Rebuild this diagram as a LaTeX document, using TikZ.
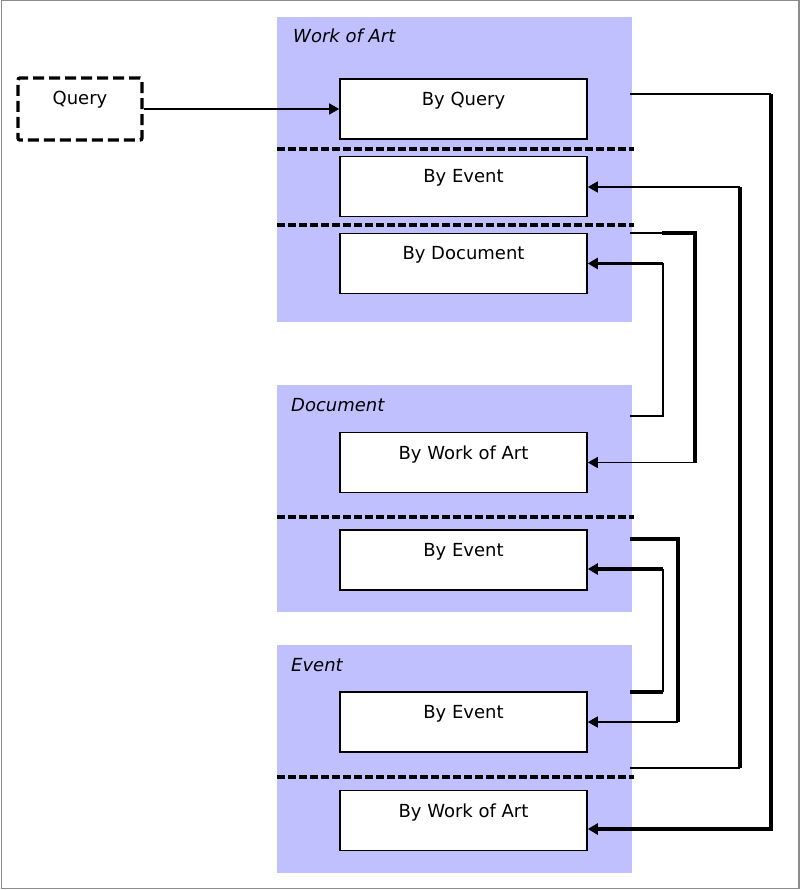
\documentclass[tikz,border=0pt]{standalone}
\usepackage{fontspec}
\setmainfont{DejaVu Sans}
\usetikzlibrary{arrows.meta,calc}
\definecolor{panelblue}{RGB}{192,192,255}
\definecolor{framegray}{RGB}{140,140,140}
\begin{document}
\begin{tikzpicture}[x=1pt,y=-1pt,
  every node/.style={font=\fontsize{18}{21}\selectfont},
  panel/.style={draw=none,fill=panelblue,inner sep=0pt,minimum width=355pt,anchor=center},
  itembox/.style={draw=black,line width=1.6pt,fill=white,inner sep=0pt,minimum width=247pt,
    text height=26.5pt,text depth=33.5pt,anchor=center},
  qbox/.style={draw=black,line width=3.4pt,dash pattern=on 11pt off 5pt,rounded corners=2pt,
    inner sep=0pt,minimum width=124pt,text height=27pt,text depth=35pt,anchor=center},
  ptitle/.style={font=\fontsize{18}{21}\selectfont\itshape,inner sep=0pt,anchor=base west},
  sepline/.style={line width=3.6pt,dash pattern=on 8pt off 3pt},
  thinc/.style={line width=1.5pt},
  thickc/.style={line width=3.4pt},
  tip/.style={-{Triangle[length=10pt,width=11pt]}},
]
\useasboundingbox (0,0) rectangle (801,890);
\draw[framegray,line width=1.3pt] (1.5,0.6) rectangle (799,888.5);

% panels
\node[panel,minimum height=305pt] (pWA) at (454.5,169.5) {};
\node[panel,minimum height=227pt] (pDoc) at (454.5,498.5) {};
\node[panel,minimum height=228pt] (pEv) at (454.5,759) {};

\node[ptitle] (tWA) at (293,43) {Work of Art};
\node[ptitle] (tDoc) at (291,411) {Document};
\node[ptitle] (tEv) at (291,671) {Event};

% separators
\draw[sepline] (277,149) -- (634,149);
\draw[sepline] (277,225) -- (634,225);
\draw[sepline] (277,517) -- (634,517);
\draw[sepline] (277,777) -- (634,777);

% boxes
\node[itembox] (bq) at (463.5,109) {By Query};
\node[itembox] (be1) at (463.5,186.5) {By Event};
\node[itembox] (bd) at (463.5,263.5) {By Document};
\node[itembox] (bw2) at (463.5,462.5) {By Work of Art};
\node[itembox] (be2) at (463.5,560) {By Event};
\node[itembox] (be3) at (463.5,722) {By Event};
\node[itembox] (bw3) at (463.5,820.5) {By Work of Art};

\node[qbox] (q) at (80,109) {Query};

% query arrow
\draw[thinc,tip] (q.east) -- (bq.west);

% connector 1: By Query -> By Work of Art (Event)
\coordinate (s1) at (630,94);
\coordinate (k1) at (771,94);
\draw[thinc] (s1) -- (k1);
\draw[thickc,tip] (k1) |- ($(bw3.east)+(0,8.5)$);

% connector 2: Event -> By Event (Work of Art)
\coordinate (s2) at (630,768);
\coordinate (k2a) at (740,768);
\coordinate (k2b) at (740,187);
\draw[thinc] (s2) -- (k2a);
\draw[thickc] (k2a) -- (k2b);
\draw[thinc,tip] (k2b) -- (be1.east |- k2b);

% connector 3: By Document -> By Work of Art (Document)
\coordinate (s3) at (630,233);
\coordinate (k3a) at (662,233);
\coordinate (k3b) at (695,462.5);
\draw[thinc] (s3) -- (k3a);
\draw[thickc] (k3a) -| (k3b);
\draw[thinc,tip] (k3b) -- (bw2.east);

% connector 4: Document -> By Document
\coordinate (s4) at (630,416);
\coordinate (k4) at (663,263.5);
\draw[thinc] (s4) -| (k4);
\draw[thickc,tip] (k4) -- (bd.east);

% connector 5: By Event (Document) -> By Event (Event)
\coordinate (s5) at (630,539);
\coordinate (k5) at (678,722);
\draw[thickc] (s5) -| (k5);
\draw[thinc,tip] (k5) -- (be3.east);

% connector 6: Event -> By Event (Document)
\coordinate (s6) at (630,692);
\coordinate (k6a) at (663,692);
\coordinate (k6b) at (663,569);
\draw[thickc] (s6) -- (k6a);
\draw[thinc] (k6a) -- (k6b);
\draw[thickc,tip] (k6b) -- (be2.east |- k6b);
\end{tikzpicture}
\end{document}
